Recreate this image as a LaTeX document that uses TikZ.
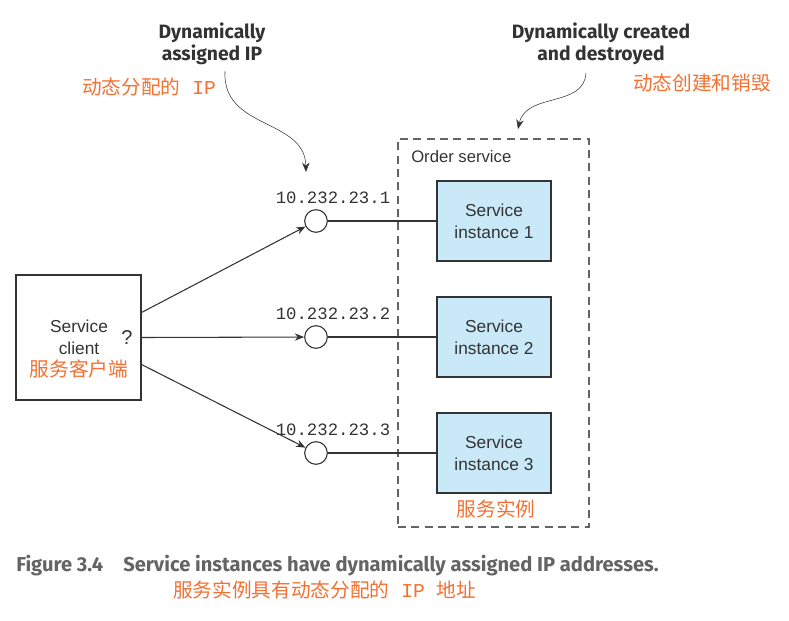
\documentclass[tikz,border=0pt]{standalone}
\usepackage{fontspec}
\setmainfont{Liberation Sans}
\newfontfamily\cjk{Noto Sans CJK SC}
\newfontfamily\annfont{Fira Sans}
\newfontfamily\ipfont{Liberation Mono}
\usetikzlibrary{arrows.meta}
\definecolor{noteOrange}{RGB}{243,112,50}
\definecolor{boxBlue}{RGB}{201,233,248}
\definecolor{inkGray}{RGB}{51,51,51}
\definecolor{capGray}{RGB}{100,100,100}

\begin{document}
\begin{tikzpicture}
[x=0.75pt,y=-0.75pt,
 instBox/.style={draw=inkGray,fill=boxBlue,thick,align=center,
 inner sep=0pt,minimum width=85.5pt,minimum height=60pt,
 font=\fontsize{13}{16.5}\selectfont,text=inkGray},
 ipCircle/.style={circle,draw=inkGray,thick,fill=white,inner sep=0pt,minimum size=17pt},
 ipLabel/.style={font=\ipfont\fontsize{13}{13}\selectfont,text=inkGray,inner sep=0pt},
 noteText/.style={font=\annfont\bfseries\fontsize{14.5}{16.5}\selectfont,text=inkGray,align=center,inner sep=0pt},
 cnText/.style={font=\cjk\fontsize{14.75}{14.75}\selectfont,text=noteOrange,inner sep=0pt},
 linkLine/.style={draw=inkGray,thick},
 linkArrow/.style={draw=inkGray,thick,-{Stealth[length=7pt,width=5.5pt]}}]
  \useasboundingbox (0,0) rectangle (789,621);
  \node[draw=inkGray,thick,fill=white,minimum size=93.75pt,inner sep=0pt] (clientBox) at (78.5,337.5) {};
  \node[align=center,font=\fontsize{13}{16.5}\selectfont,text=inkGray,inner sep=0pt] (clientText) at (79,349)
    {Service\\client\\{\cjk\color{noteOrange}\fontsize{14.75}{14.75}\selectfont 服务客户端}};
  \node[font=\fontsize{15}{15}\selectfont,text=inkGray,inner sep=0pt] (askMark) at (127,338) {?};
  \node[draw=capGray,thick,dashed,dash pattern=on 6pt off 4pt,minimum width=143.25pt,minimum height=291pt,inner sep=0pt] (orderBox) at (493.5,333) {};
  \node[anchor=west,font=\fontsize{12.5}{12.5}\selectfont,text=inkGray,inner sep=0pt] (orderLabel) at (411,157) {Order service};
  \foreach \n/\y/\s in {1/221/18.75pt,2/337/0pt,3/453/-20.25pt} {
    \node[instBox] (instance\n) at (494,\y) {Service\\instance \n};
    \node[ipCircle] (ipOF\n) at (316,\y) {};
    \node[ipLabel] (ipText\n) at (333,\y-23) {10.232.23.\n};
    \draw[linkLine] (ipOF\n) -- (instance\n);
    \draw[linkArrow] ([yshift=\s]clientBox.east) -- (ipOF\n);
  }
  \node[cnText] (instanceCn) at (496,509) {服务实例};
  \node[noteText] (ipNote) at (212,44) {Dynamically\\assigned IP};
  \node[cnText,anchor=west] (ipNoteCn) at (82,87) {动态分配的{\ipfont\ IP}};
  \coordinate (ipTip) at (306,172);
  \draw[linkArrow,thin] (ipNote.south) ++(13,6) .. controls (222,130) and (305,118) .. (ipTip);
  \node[noteText] (lifeNote) at (601,44) {Dynamically created\\and destroyed};
  \node[cnText,anchor=west] (lifeNoteCn) at (633,83) {动态创建和销毁};
  \coordinate (lifeTip) at (518,129);
  \draw[linkArrow,thin] (586,73) .. controls (584,108) and (526,92) .. (lifeTip);
  \node[anchor=west,font=\annfont\bfseries\fontsize{15.1}{15.1}\selectfont,text=capGray,inner sep=0pt] (captionText) at (16,566)
    {Figure 3.4\hspace{1em}Service instances have dynamically assigned IP addresses.};
  \node[cnText,anchor=west] (captionCn) at (173,590) {服务实例具有动态分配的{\ipfont\ IP\ }地址};
\end{tikzpicture}
\end{document}
